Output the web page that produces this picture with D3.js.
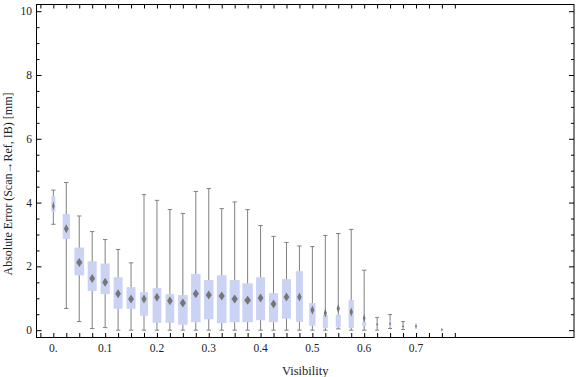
<!DOCTYPE html>
<html>
<head>
<meta charset="utf-8">
<script src="https://cdn.jsdelivr.net/npm/d3@7"></script>
<style>
  body { margin: 0; background: #fff; }
  svg text { font-family: "Liberation Serif", "DejaVu Serif", serif; fill: #222; }
</style>
</head>
<body>
<main></main>
<script>
// visibility bins (0.725 bin has no data)
const visibility = [0, 0.025, 0.05, 0.075, 0.1, 0.125, 0.15, 0.175, 0.2, 0.225,
                    0.25, 0.275, 0.3, 0.325, 0.35, 0.375, 0.4, 0.425, 0.45, 0.475,
                    0.5, 0.525, 0.55, 0.575, 0.6, 0.625, 0.65, 0.675, 0.7, 0.75]
const whiskerHi = [4.39, 4.63, 3.58, 3.09, 2.84, 2.53, 2.11, 4.25, 4.07, 3.78,
                   3.66, 4.35, 4.44, 3.81, 4.02, 3.78, 3.28, 2.94, 2.75, 2.64,
                   2.62, 2.97, 3.03, 3.16, 1.88, 0.40, 0.49, 0.27, 0.20, 0.02]
const q3 = [4.20, 3.64, 2.59, 2.16, 2.09, 1.66, 1.35, 1.19, 1.32, 1.13,
            1.10, 1.76, 1.57, 1.72, 1.57, 1.47, 1.66, 1.16, 1.60, 1.85,
            0.85, 0.48, 0.48, 0.94, 0.25, 0.24, 0.31, 0.19, 0.20, 0.02]
const median = [3.89, 3.18, 2.12, 1.62, 1.50, 1.14, 0.98, 0.98, 1.03, 0.92,
                0.85, 1.14, 1.10, 1.07, 0.98, 0.94, 1.01, 0.82, 1.04, 1.04,
                0.63, 0.54, 0.68, 0.57, 0.37, 0.18, 0.20, 0.12, 0.12, 0.01]
const q1 = [3.71, 2.86, 1.72, 1.23, 1.13, 0.67, 0.67, 0.45, 0.23, 0.23,
            0.17, 0.25, 0.34, 0.22, 0.25, 0.25, 0.31, 0.25, 0.36, 0.26,
            0.14, 0.07, 0.09, 0.07, 0.14, 0.12, 0.10, 0.05, 0.04, 0.00]
const whiskerLo = [3.32, 0.68, 0.27, 0.05, 0.08, 0, 0, 0, 0, 0,
                   0, 0, 0, 0, 0, 0, 0, 0, 0, 0,
                   0, 0, 0.04, 0, 0, 0, 0.05, 0.02, 0.04, 0]
// relative weight of each bin (box width)
const weights = [0.40, 0.73, 0.97, 0.90, 0.90, 0.90, 0.90, 0.80, 0.87, 0.87,
                 0.95, 0.95, 0.95, 0.97, 1.00, 1.05, 0.90, 0.90, 0.90, 0.70,
                 0.63, 0.50, 0.50, 0.53, 0.40, 0.23, 0.23, 0.20, 0.20, 0.20]

const xTickLabels = ['0.', '0.1', '0.2', '0.3', '0.4', '0.5', '0.6', '0.7']
const xLabelValues = [0, 0.1, 0.2, 0.3, 0.4, 0.5, 0.6, 0.7]
const xMinorTicks = [-0.025, 0, 0.025, 0.05, 0.075, 0.1, 0.125, 0.15, 0.175, 0.2, 0.225,
                     0.25, 0.275, 0.3, 0.325, 0.35, 0.375, 0.4, 0.425, 0.45, 0.475,
                     0.5, 0.525, 0.55, 0.575, 0.6, 0.625, 0.65, 0.675, 0.7, 0.725, 0.75, 0.775]
const yMajor = [0, 2, 4, 6, 8, 10]

const size = { width: 576, height: 377 }
const frame = { left: 36.5, right: 574, top: 4.5, bottom: 337.5 }

const svg = d3.select('main')
              .append('svg')
              .attr('width', size.width)
              .attr('height', size.height)

const x = d3.scaleLinear().domain([-0.0325, 1.005]).range([frame.left, frame.right])
const y = d3.scaleLinear().domain([-0.23, 10.21]).range([frame.bottom, frame.top])
const w = d3.scaleLinear().domain([0, 1]).range([0, 10])

const data = visibility.map((v, i) => ({
    v, hi: whiskerHi[i], q3: q3[i], med: median[i], q1: q1[i], lo: whiskerLo[i], wt: weights[i]
}))

// axes
const yMinor = d3.range(0, 10.01, 0.5).filter(d => d % 2 !== 0)

svg.append('g').attr('transform', `translate(0,${frame.bottom})`)
    .call(d3.axisBottom(x).tickValues(xMinorTicks).tickSizeInner(-4.5).tickSizeOuter(0).tickFormat(''))
svg.append('g').attr('transform', `translate(0,${frame.top})`)
    .call(d3.axisTop(x).tickValues(xMinorTicks).tickSizeInner(-4).tickSizeOuter(0).tickFormat(''))
svg.append('g').attr('transform', `translate(${frame.left},0)`)
    .call(d3.axisLeft(y).tickValues(yMajor).tickSizeInner(-5).tickSizeOuter(0).tickFormat(''))
svg.append('g').attr('transform', `translate(${frame.left},0)`)
    .call(d3.axisLeft(y).tickValues(yMinor).tickSizeInner(-3).tickSizeOuter(0).tickFormat(''))
svg.append('g').attr('transform', `translate(${frame.right},0)`)
    .call(d3.axisRight(y).tickValues(yMajor).tickSizeInner(-5).tickSizeOuter(0).tickFormat(''))
svg.append('g').attr('transform', `translate(${frame.right},0)`)
    .call(d3.axisRight(y).tickValues(yMinor).tickSizeInner(-3).tickSizeOuter(0).tickFormat(''))

svg.selectAll('.domain').remove()
svg.selectAll('.tick line').attr('stroke', '#000').attr('stroke-width', 1)

svg.append('rect')
    .attr('x', frame.left).attr('y', frame.top)
    .attr('width', frame.right - frame.left).attr('height', frame.bottom - frame.top)
    .attr('fill', 'none').attr('stroke', '#000').attr('stroke-width', 1)

// tick labels
svg.append('g').selectAll('text')
    .data(xLabelValues)
    .enter().append('text')
    .attr('x', d => x(d))
    .attr('y', 351.5)
    .attr('text-anchor', 'middle')
    .attr('font-size', 11.5)
    .text((d, i) => xTickLabels[i])

svg.append('g').selectAll('text')
    .data(yMajor)
    .enter().append('text')
    .attr('x', 32)
    .attr('y', d => y(d) + 4)
    .attr('text-anchor', 'end')
    .attr('font-size', 11.5)
    .text(d => d)

svg.append('text')
    .attr('x', (frame.left + frame.right) / 2)
    .attr('y', 375)
    .attr('text-anchor', 'middle')
    .attr('font-size', 12.5)
    .text('Visibility')

svg.append('text')
    .attr('transform', 'translate(12,184) rotate(-90)')
    .attr('text-anchor', 'middle')
    .attr('font-size', 12)
    .text('Absolute Error (Scan\u2192Ref, IB) [mm]')

// boxes
const boxes = svg.append('g').selectAll('g')
    .data(data)
    .enter().append('g')

boxes.append('line')
    .attr('x1', d => x(d.v)).attr('x2', d => x(d.v))
    .attr('y1', d => y(d.hi)).attr('y2', d => y(d.lo))
    .attr('stroke', '#808080').attr('stroke-width', 1)

boxes.filter(d => d.hi > d.q3).append('line')
    .attr('x1', d => x(d.v) - Math.min(2.2, w(d.wt) / 2 + 0.8))
    .attr('x2', d => x(d.v) + Math.min(2.2, w(d.wt) / 2 + 0.8))
    .attr('y1', d => y(d.hi)).attr('y2', d => y(d.hi))
    .attr('stroke', '#808080').attr('stroke-width', 1)

boxes.filter(d => d.lo < d.q1).append('line')
    .attr('x1', d => x(d.v) - Math.min(2.2, w(d.wt) / 2 + 0.8))
    .attr('x2', d => x(d.v) + Math.min(2.2, w(d.wt) / 2 + 0.8))
    .attr('y1', d => y(d.lo)).attr('y2', d => y(d.lo))
    .attr('stroke', '#808080').attr('stroke-width', 1)

boxes.append('rect')
    .attr('x', d => x(d.v) - w(d.wt) / 2)
    .attr('width', d => w(d.wt))
    .attr('y', d => y(d.q3))
    .attr('height', d => Math.max(1, y(d.q1) - y(d.q3)))
    .attr('fill', '#cbd3f5')

boxes.append('path')
    .attr('d', d => {
        const cx = x(d.v), cy = y(d.med)
        const hw = Math.max(0.8, w(d.wt) * 0.32), hh = d.wt > 0.3 ? 4.5 : 2
        return `M${cx},${cy - hh}L${cx + hw},${cy}L${cx},${cy + hh}L${cx - hw},${cy}Z`
    })
    .attr('fill', '#767676')
</script>
</body>
</html>
